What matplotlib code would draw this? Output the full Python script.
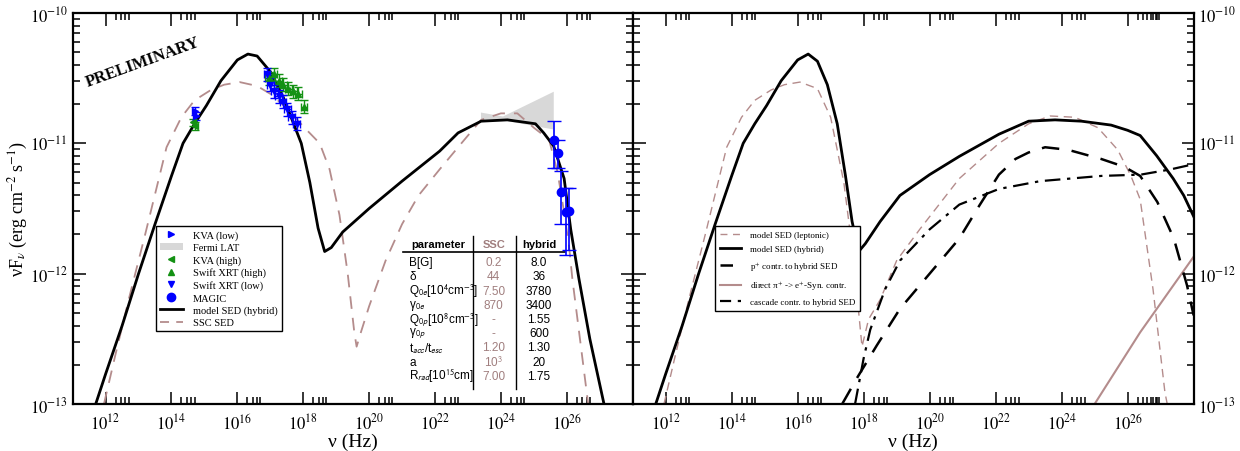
import numpy as np
import matplotlib
matplotlib.use("Agg")
import matplotlib.pyplot as plt
from matplotlib.lines import Line2D
from matplotlib.patches import Patch

plt.rcParams["font.family"] = ["Liberation Serif", "DejaVu Serif"]
plt.rcParams["mathtext.fontset"] = "stix"

# ---- model curves, log10(nu/Hz) vs log10(nuFnu / erg cm-2 s-1) ----
hyb_lognu = [11.70, 12.0, 12.5, 13.0, 13.5, 14.0, 14.35, 14.7, 15.06, 15.5, 16.0, 16.32, 16.6, 17.0,
             17.4, 17.94, 18.2, 18.45, 18.65, 18.85, 19.2, 20.0, 21.0, 22.14, 22.7, 23.4, 24.2, 25.05,
             25.3, 25.6, 25.92, 26.12, 26.37, 26.7, 27.13]
hyb_logf = [-13.0, -12.77, -12.4, -12.0, -11.62, -11.25, -11.0, -10.85, -10.71, -10.52, -10.36, -10.315,
            -10.33, -10.45, -10.65, -11.0, -11.3, -11.65, -11.83, -11.80, -11.68, -11.5, -11.29, -11.06,
            -10.92, -10.83, -10.82, -10.85, -10.92, -11.02, -11.27, -11.66, -12.04, -12.5, -13.0]

ssc_lognu = [11.95, 12.3, 12.7, 13.2, 13.85, 14.3, 14.7, 15.2, 15.6, 16.07, 16.6, 17.0, 17.5, 18.0,
             18.5, 18.8, 19.1, 19.35, 19.55, 19.62, 19.75, 20.0, 20.5, 21.0, 21.5, 22.14, 22.8, 23.4,
             24.0, 24.5, 25.0, 25.46, 25.72, 25.92, 26.07, 26.17, 26.4, 26.65]
ssc_logf = [-13.0, -12.62, -12.2, -11.7, -11.03, -10.8, -10.67, -10.59, -10.55, -10.53, -10.56, -10.62,
            -10.73, -10.87, -11.0, -11.2, -11.55, -12.0, -12.45, -12.56, -12.45, -12.25, -11.9, -11.62,
            -11.4, -11.2, -11.0, -10.82, -10.77, -10.77, -10.88, -10.97, -11.22, -11.53, -11.79, -12.04,
            -12.5, -13.0]

# right panel (unabsorbed model and its components)
lep_lognu = [11.95, 12.3, 12.7, 13.2, 13.85, 14.3, 14.7, 15.2, 15.6, 16.07, 16.6, 17.0, 17.4, 17.7,
             17.95, 18.15, 18.5, 19.0, 19.7, 20.9, 22.1, 23.0, 23.65, 24.4, 25.1, 25.7, 26.1, 26.38,
             26.77, 27.13, 27.2]
lep_logf = [-13.0, -12.62, -12.2, -11.7, -11.03, -10.8, -10.67, -10.59, -10.55, -10.53, -10.58, -10.8,
            -11.3, -11.9, -12.56, -12.35, -12.2, -11.9, -11.66, -11.27, -11.0, -10.85, -10.79, -10.8,
            -10.88, -11.05, -11.25, -11.43, -12.12, -12.91, -13.0]

hybr_lognu = [11.70, 12.0, 12.5, 13.0, 13.5, 14.0, 14.35, 14.7, 15.06, 15.5, 16.0, 16.32, 16.6, 16.9,
              17.2, 17.45, 17.65, 17.85, 18.05, 18.5, 19.1, 20.0, 20.9, 22.1, 23.0, 23.8, 24.6, 25.5,
              26.0, 26.38, 26.88, 27.38, 27.7, 28.0]
hybr_logf = [-13.0, -12.77, -12.4, -12.0, -11.62, -11.25, -11.0, -10.85, -10.71, -10.52, -10.36, -10.315,
             -10.37, -10.55, -10.85, -11.25, -11.6, -11.83, -11.77, -11.6, -11.4, -11.24, -11.1, -10.93,
             -10.83, -10.82, -10.83, -10.86, -10.9, -10.94, -11.095, -11.27, -11.4, -11.56]

pp_lognu = [17.35, 17.8, 18.4, 19.1, 20.0, 20.9, 21.5, 22.1, 22.6, 23.0, 23.5, 24.2, 25.2, 25.9, 26.38,
            26.9, 27.4, 27.8, 28.0]
pp_logf = [-13.0, -12.8, -12.55, -12.27, -12.0, -11.73, -11.48, -11.24, -11.12, -11.07, -11.03, -11.05,
           -11.12, -11.18, -11.25, -11.45, -11.73, -12.09, -12.32]

pi_lognu = [25.0, 26.38, 28.0]
pi_logf = [-13.0, -12.45, -11.87]

casc_lognu = [17.74, 18.0, 18.2, 18.65, 19.1, 20.0, 20.9, 22.1, 23.35, 25.2, 26.4, 27.3, 28.0]
casc_logf = [-13.0, -12.65, -12.43, -12.12, -11.9, -11.66, -11.47, -11.35, -11.29, -11.25, -11.24,
             -11.2, -11.16]

# ---- data points ----
kva_low_lognu = [14.70, 14.74]
kva_low_logf = [-10.75, -10.79]
kva_high_lognu = [14.66, 14.70]
kva_high_logf = [-10.84, -10.87]

xrt_high_lognu = [16.95, 17.10, 17.25, 17.40, 17.55, 17.70, 17.85, 18.02]
xrt_high_logf = [-10.50, -10.47, -10.52, -10.55, -10.58, -10.60, -10.62, -10.72]
xrt_low_lognu = [16.90, 17.00, 17.12, 17.25, 17.38, 17.52, 17.65, 17.80]
xrt_low_logf = [-10.47, -10.55, -10.60, -10.64, -10.68, -10.74, -10.80, -10.85]

magic_lognu = [25.62, 25.74, 25.84, 25.97, 26.08]
magic_logf = [-10.975, -11.075, -11.37, -11.53, -11.52]
magic_logf_hi = [-10.83, -10.975, -11.21, -11.34, -11.34]
magic_logf_lo = [-11.19, -11.19, -11.62, -11.86, -11.82]

fermi_lognu = [23.38, 24.05, 25.59]
fermi_logf_hi = [-10.76, -10.79, -10.60]
fermi_logf_lo = [-10.83, -10.82, -10.89]

# ---- parameter table ----
par_names = ["B[G]", "δ", r"Q$_{\mathsf{0e}}$[10$^{\mathsf{4}}$cm$^{\mathsf{-3}}$]", r"γ$_{\mathsf{0e}}$",
             r"Q$_{\mathsf{0p}}$[10$^{\mathsf{8}}$cm$^{\mathsf{-3}}$]", r"γ$_{\mathsf{0p}}$",
             r"t$_{\mathsf{acc}}$/t$_{\mathsf{esc}}$", "a", r"R$_{\mathsf{rad}}$[10$^{\mathsf{15}}$cm]"]
par_ssc = ["0.2", "44", "7.50", "870", "-", "-", "1.20", r"10$^{\mathsf{3}}$", "7.00"]
par_hybrid = ["8.0", "36", "3780", "3400", "1.55", "600", "1.30", "20", "1.75"]

BROWN = "#b48c8c"
BROWN_TXT = "#a07e7e"
GREEN = "#139113"
BLUE = "#0000ff"


def p(vals):
    return 10.0 ** np.asarray(vals, dtype=float)


def logerr(vals, d):
    v = np.asarray(vals, dtype=float)
    return [p(v) - p(v - d), p(v + d) - p(v)]


def style_axis(ax, right_labels=False, extra_minor=False):
    ax.set_xscale("log")
    ax.set_yscale("log")
    ax.set_xlim(1e11, 1e28)
    ax.set_ylim(1e-13, 1e-10)
    ax.set_xticks([10.0 ** e for e in range(12, 27, 2)])
    ax.set_xticklabels(["$10^{%d}$" % e for e in range(12, 27, 2)])
    minors = [m * 10.0 ** e for e in range(12, 28, 2) for m in (2, 3, 4, 5)]
    if extra_minor:
        minors += [m * 1e26 for m in (6, 7, 8, 9)]
    ax.set_xticks(minors, minor=True)
    ax.set_yticks([1e-13, 1e-12, 1e-11, 1e-10])
    ax.set_yticklabels(["$10^{-13}$", "$10^{-12}$", "$10^{-11}$", "$10^{-10}$"])
    ax.set_yticks([m * 10.0 ** e for e in (-13, -12, -11) for m in range(2, 10)], minor=True)
    ax.tick_params(which="both", direction="in", top=True, right=True, labelsize=12, width=1.1)
    ax.tick_params(which="major", length=9)
    ax.tick_params(which="minor", length=5)
    ax.tick_params(axis="x", which="major", pad=6)
    if right_labels:
        ax.tick_params(axis="y", labelleft=False, labelright=True)
    for s in ax.spines.values():
        s.set_linewidth(1.6)
    ax.set_xlabel("ν (Hz)", fontsize=14, labelpad=0)


fig = plt.figure(figsize=(12.4, 4.52), dpi=100)
axl = fig.add_axes([0.0586, 0.104, 0.4516, 0.865])
axr = fig.add_axes([0.5102, 0.104, 0.4524, 0.865])

# ---------------- left panel ----------------
axl.fill_between(p(fermi_lognu), p(fermi_logf_lo), p(fermi_logf_hi), color="#d8d8d8", lw=0, zorder=1)
axl.plot(p(ssc_lognu), p(ssc_logf), color=BROWN, lw=1.3, dashes=(7, 5), zorder=2)
axl.plot(p(hyb_lognu), p(hyb_logf), color="black", lw=2.0, zorder=3)

axl.errorbar(p(xrt_high_lognu), p(xrt_high_logf), xerr=logerr(xrt_high_lognu, 0.10),
             yerr=logerr(xrt_high_logf, 0.05), fmt="^", color=GREEN, ms=5, lw=1, capsize=3, zorder=4)
axl.errorbar(p(xrt_low_lognu), p(xrt_low_logf), xerr=logerr(xrt_low_lognu, 0.10),
             yerr=logerr(xrt_low_logf, 0.05), fmt="v", color=BLUE, ms=5, lw=1, capsize=3, zorder=4)
axl.errorbar(p(kva_high_lognu), p(kva_high_logf), yerr=logerr(kva_high_logf, 0.03),
             fmt="<", color=GREEN, ms=5, lw=1, capsize=3, zorder=4)
axl.errorbar(p(kva_low_lognu), p(kva_low_logf), yerr=logerr(kva_low_logf, 0.03),
             fmt=">", color=BLUE, ms=5, lw=1, capsize=3, zorder=4)
axl.errorbar(p(magic_lognu), p(magic_logf),
             yerr=[p(magic_logf) - p(magic_logf_lo), p(magic_logf_hi) - p(magic_logf)],
             fmt="o", color=BLUE, ms=6, lw=1.2, capsize=5, zorder=5)

style_axis(axl)
axl.set_ylabel("νF$_{ν}$ (erg cm$^{-2}$ s$^{-1}$)", fontsize=13)
axl.yaxis.set_label_coords(-0.077, 0.5)

axl.text(0.125, 0.875, "PRELIMINARY", transform=axl.transAxes, fontsize=12, fontweight="bold",
         rotation=20, ha="center", va="center")

handles_l = [
    Line2D([], [], ls="none", marker=">", color=BLUE, ms=5),
    Patch(facecolor="#d8d8d8", edgecolor="none"),
    Line2D([], [], ls="none", marker="<", color=GREEN, ms=5),
    Line2D([], [], ls="none", marker="^", color=GREEN, ms=5),
    Line2D([], [], ls="none", marker="v", color=BLUE, ms=5),
    Line2D([], [], ls="none", marker="o", color=BLUE, ms=6),
    Line2D([], [], color="black", lw=2.0),
    Line2D([], [], color=BROWN, lw=1.3, dashes=(5, 4)),
]
labels_l = ["KVA (low)", "Fermi LAT", "KVA (high)", "Swift XRT (high)", "Swift XRT (low)", "MAGIC",
            "model SED (hybrid)", "SSC SED"]
leg = axl.legend(handles_l, labels_l, loc="upper left", bbox_to_anchor=(0.148, 0.455), fontsize=7.5,
                 frameon=True, fancybox=False, edgecolor="black", framealpha=1, handlelength=2.2,
                 labelspacing=0.28, borderpad=0.4, handletextpad=1.0, borderaxespad=0)
leg.get_frame().set_linewidth(1.0)

# parameter table
tr = axl.transAxes
sans = ["Liberation Sans", "DejaVu Sans"]
axl.text(0.6039, 0.409, "parameter", transform=tr, fontsize=8, fontweight="bold", family=sans, va="center")
axl.text(0.7518, 0.409, "SSC", transform=tr, fontsize=8, fontweight="bold", family=sans, va="center",
         ha="center", color=BROWN_TXT)
axl.text(0.8327, 0.409, "hybrid", transform=tr, fontsize=8, fontweight="bold", family=sans, va="center",
         ha="center")
axl.plot([0.590, 0.8795], [0.3887, 0.3887], transform=tr, color="black", lw=1.2, clip_on=False)
axl.plot([0.7143, 0.7143], [0.4297, 0.0384], transform=tr, color="black", lw=1.0)
axl.plot([0.7916, 0.7916], [0.4297, 0.0384], transform=tr, color="black", lw=1.0)
row_y = np.linspace(0.3624, 0.0724, len(par_names))
for yy, nm, vs, vh in zip(row_y, par_names, par_ssc, par_hybrid):
    axl.text(0.6010, yy, nm, transform=tr, fontsize=8.5, family=sans, va="center")
    axl.text(0.7518, yy, vs, transform=tr, fontsize=8.5, family=sans, va="center", ha="center", color=BROWN_TXT)
    axl.text(0.8327, yy, vh, transform=tr, fontsize=8.5, family=sans, va="center", ha="center")

# ---------------- right panel ----------------
axr.plot(p(lep_lognu), p(lep_logf), color=BROWN, lw=1.0, dashes=(6, 4), zorder=2)
axr.plot(p(hybr_lognu), p(hybr_logf), color="black", lw=2.0, zorder=3)
axr.plot(p(pp_lognu), p(pp_logf), color="black", lw=1.8, dashes=(7, 5), zorder=3)
axr.plot(p(pi_lognu), p(pi_logf), color=BROWN, lw=1.5, zorder=2)
axr.plot(p(casc_lognu), p(casc_logf), color="black", lw=1.6, dashes=(7, 3, 1.5, 3), zorder=3)

style_axis(axr, right_labels=True, extra_minor=True)

handles_r = [
    Line2D([], [], color=BROWN, lw=1.0, dashes=(5, 4)),
    Line2D([], [], color="black", lw=2.0),
    Line2D([], [], color="black", lw=1.8, dashes=(5, 4)),
    Line2D([], [], color=BROWN, lw=1.5),
    Line2D([], [], color="black", lw=1.6, dashes=(5, 3, 1.5, 3)),
]
labels_r = ["model SED (leptonic)", "model SED (hybrid)", "p$^{+}$ contr. to hybrid SED",
            "direct π$^{+}$ -> e$^{+}$-Syn. contr.", "cascade contr. to hybrid SED"]
legr = axr.legend(handles_r, labels_r, loc="upper left", bbox_to_anchor=(0.147, 0.455), fontsize=6.5,
                  frameon=True, fancybox=False, edgecolor="black", framealpha=1, handlelength=2.4,
                  labelspacing=0.66, borderpad=0.5, handletextpad=1.0, borderaxespad=0)
legr.get_frame().set_linewidth(1.0)

fig.savefig("out.png", dpi=100)
